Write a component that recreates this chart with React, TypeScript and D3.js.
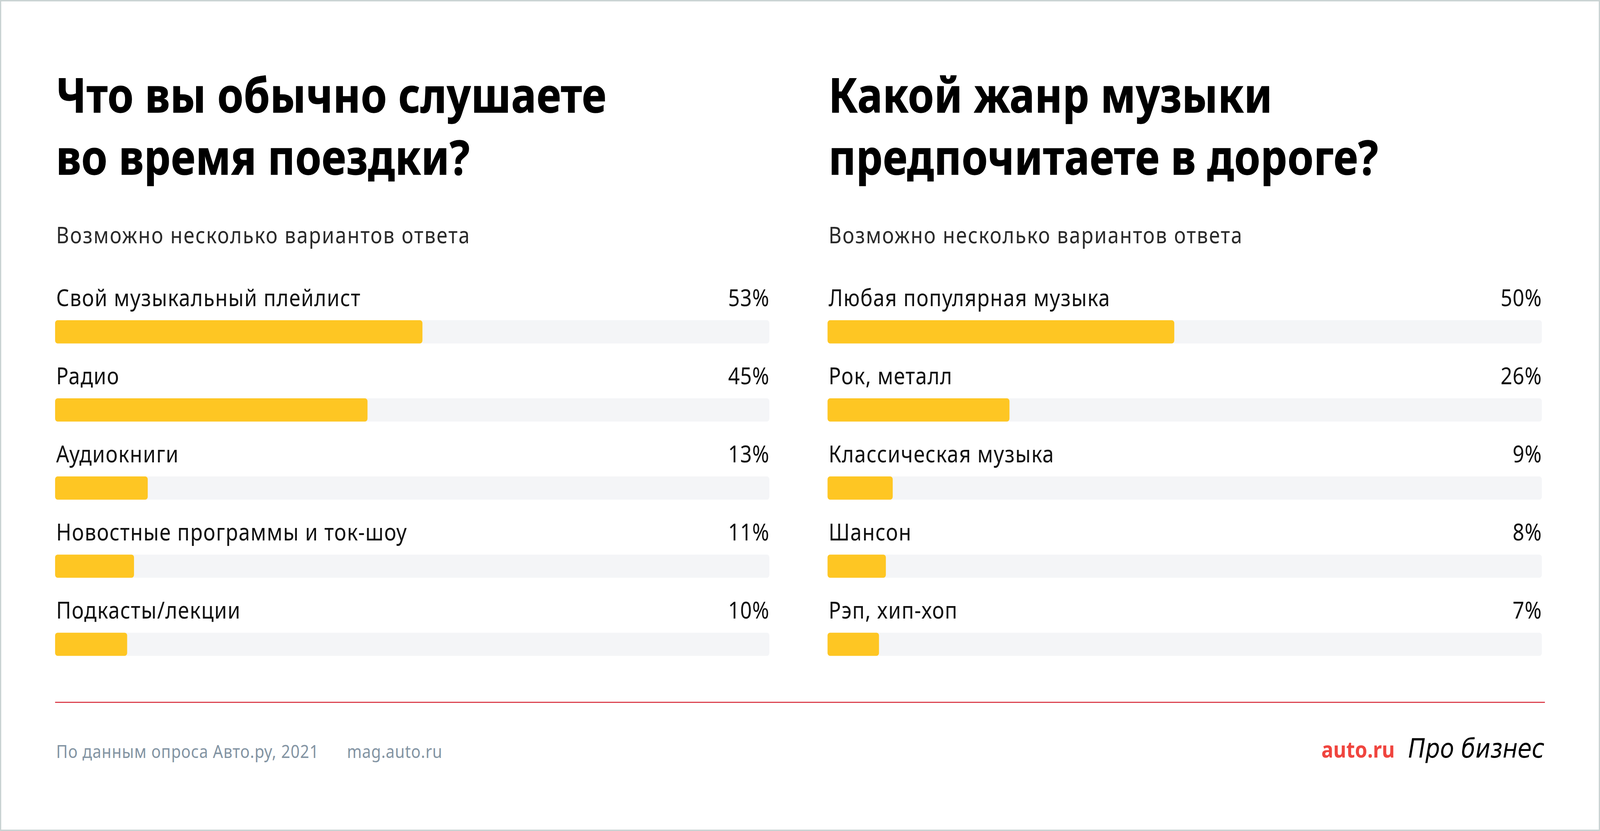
import React, { useEffect } from "react";
import * as d3 from "d3";

const leftTitle = ["Что вы обычно слушаете", "во время поездки?"];
const rightTitle = ["Какой жанр музыки", "предпочитаете в дороге?"];
const subtitleText = "Возможно несколько вариантов ответа";

const leftCategories = [
  "Свой музыкальный плейлист",
  "Радио",
  "Аудиокниги",
  "Новостные программы и ток-шоу",
  "Подкасты/лекции",
];
const leftValues = [53, 45, 13, 11, 10];

const rightCategories = [
  "Любая популярная музыка",
  "Рок, металл",
  "Классическая музыка",
  "Шансон",
  "Рэп, хип-хоп",
];
const rightValues = [50, 26, 9, 8, 7];

const sourceText = "По данным опроса Авто.ру, 2021";
const siteText = "mag.auto.ru";
const logoAuto = "auto.ru";
const logoPro = "Про бизнес";

const W = 1568;
const H = 717;
const FONT = "'Noto Sans', 'DejaVu Sans', sans-serif";

const TRACK_W = 700;
const BAR_H = 20;

const barScale = d3.scaleLinear().domain([0, 100]).range([3.3, 676.3]);

function Panel({ x0, title, categories, values }: { x0: number; title: string[]; categories: string[]; values: number[] }) {
  const y = d3
    .scalePoint<string>()
    .domain(categories)
    .range([276.3, 276.3 + 67.4 * (categories.length - 1)]);
  return (
    <g>
      {title.map((t, i) => (
        <text
          key={i}
          x={x0 + 1}
          y={97 + i * 53.5}
          fontFamily={FONT}
          fontWeight={700}
          fontSize={41}
          letterSpacing={0.3}
          stroke="#000"
          strokeWidth={0.5}
          fill="#000"
        >
          {t}
        </text>
      ))}
      <text x={x0 + 1} y={210} fontFamily={FONT} fontSize={19.5} letterSpacing={0.95} fill="#2a2a2a">
        {subtitleText}
      </text>
      {categories.map((c, i) => {
        const yy = y(c) as number;
        return (
          <g key={c}>
            <text x={x0 + 1} y={yy - 12.3} fontFamily={FONT} fontSize={20} letterSpacing={0.6} fill="#111">
              {c}
            </text>
            <text
              x={x0 + TRACK_W}
              y={yy - 12.3}
              textAnchor="end"
              fontFamily={FONT}
              fontSize={20}
              letterSpacing={0.3}
              fill="#111"
            >
              {values[i] + "%"}
            </text>
            <rect x={x0} y={yy} width={TRACK_W} height={BAR_H} rx={2.5} fill="#F4F5F7" />
            <rect x={x0} y={yy} width={barScale(values[i])} height={BAR_H} rx={2.5} fill="#FEC623" />
          </g>
        );
      })}
    </g>
  );
}

export default function App() {
  useEffect(() => {
    document.body.style.margin = "0";
    document.body.style.overflow = "hidden";
  }, []);
  return (
    <svg
      width="100vw"
      height="100vh"
      viewBox={`0 0 ${W} ${H}`}
      preserveAspectRatio="none"
      style={{ display: "block", position: "fixed", left: 0, top: 0, width: "100vw", height: "100vh" }}
    >
      <rect x={0} y={0} width={W} height={H} fill="#fff" />
      <rect x={0.6} y={0.6} width={W - 1.2} height={H - 1.2} fill="none" stroke="#C9D3D3" strokeWidth={1.2} />
      <Panel x0={54} title={leftTitle} categories={leftCategories} values={leftValues} />
      <Panel x0={811} title={rightTitle} categories={rightCategories} values={rightValues} />
      <line x1={54} x2={1514} y1={606} y2={606} stroke="#DC4350" strokeWidth={1} />
      <text x={55} y={654} fontFamily={FONT} fontSize={15.5} letterSpacing={0.4} fill="#8394A3">
        {sourceText}
      </text>
      <text x={340} y={654} fontFamily={FONT} fontSize={15.5} letterSpacing={0.3} fill="#8394A3">
        {siteText}
      </text>
      <text x={1295} y={653.5} fontFamily={FONT} fontWeight={700} fontSize={19.5} fill="#F0453F">
        {logoAuto}
      </text>
      <text x={1380} y={653.5} fontFamily="'DejaVu Sans', sans-serif" fontStyle="italic" fontSize={22.5} fill="#000">
        {logoPro}
      </text>
    </svg>
  );
}
